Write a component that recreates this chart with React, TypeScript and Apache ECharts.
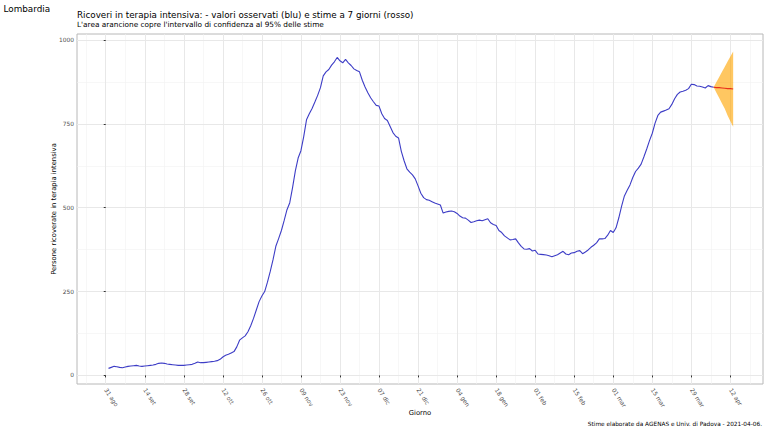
import React, { useEffect, useRef } from "react";
import * as echarts from "echarts";

// Days are counted from 31 Aug 2020 (day 0)
const tickDays = [0, 14, 28, 42, 56, 70, 84, 98, 112, 126, 140, 154, 168, 182, 196, 210, 224];
const tickLabels = ["31 ago", "14 set", "28 set", "12 ott", "26 ott", "09 nov", "23 nov", "07 dic", "21 dic", "04 gen", "18 gen", "01 feb", "15 feb", "01 mar", "15 mar", "29 mar", "12 apr"];
const minorDays = [-7, 7, 21, 35, 49, 63, 77, 91, 105, 119, 133, 147, 161, 175, 189, 203, 217, 231];
const yTicks = [0, 250, 500, 750, 1000];
const yMinor = [125, 375, 625, 875];

// Observed ICU occupancy, 1 Sep 2020 (day 1) .. 6 Apr 2021 (day 218)
const observedStartDay = 1;
const observed = [
  21, 24, 27, 26, 24, 23, 25, 27, 28, 29, 30, 28, 27, 28, 29, 30, 31, 33, 36, 37,
  36, 34, 33, 32, 31, 30, 30, 30, 31, 32, 33, 36, 40, 38, 38, 39, 40, 41, 42, 44,
  48, 55, 60, 63, 67, 71, 85, 105, 112, 118, 130, 148, 170, 195, 220, 237, 250, 278, 310, 345,
  385, 408, 432, 462, 494, 515, 560, 610, 648, 670, 712, 762, 780, 796, 815, 835, 858, 893, 905, 912,
  925, 935, 948, 938, 932, 942, 932, 924, 914, 909, 905, 880, 860, 843, 828, 816, 805, 803, 780, 766,
  760, 742, 724, 713, 708, 668, 640, 616, 606, 598, 586, 565, 543, 530, 524, 522, 518, 514, 511, 508,
  484, 487, 489, 490, 488, 483, 475, 470, 469, 463, 456, 458, 461, 463, 461, 464, 467, 455, 450, 447,
  432, 426, 416, 410, 404, 405, 407, 395, 385, 377, 376, 378, 371, 373, 362, 361, 360, 359, 357, 354,
  357, 360, 365, 370, 362, 360, 365, 366, 370, 372, 363, 368, 374, 382, 388, 395, 407, 407, 408, 418,
  432, 426, 440, 470, 505, 535, 552, 568, 590, 608, 618, 630, 652, 675, 700, 722, 752, 775, 785, 788,
  791, 795, 808, 825, 838, 845, 847, 850, 855, 868, 867, 863, 862, 860, 857, 864, 861, 859,
];

// 7-day forecast, 6 Apr (day 218) .. 13 Apr (day 225)
const forecastDays = [218, 219, 220, 221, 222, 223, 224, 225];
const forecastMean = [859, 858, 858, 857, 856, 855, 855, 854];
const forecastLower = [859, 843, 827, 811, 795, 775, 758, 741];
const forecastUpper = [859, 875, 890, 905, 920, 936, 951, 966];

const tagText = "Lombardia";
const titleText = "Ricoveri in terapia intensiva: - valori osservati (blu) e stime a 7 giorni (rosso)";
const subtitleText = "L'area arancione copre l'intervallo di confidenza al 95% delle stime";
const captionText = "Stime elaborate da AGENAS e Univ. di Padova - 2021-04-06.";

const FONT = "DejaVu Sans";

function txt(text: string, x: number, y: number, size: number, align: string = "left") {
  return {
    type: "text", x, y, silent: true,
    style: {
      text, fontSize: size, fontFamily: FONT, fill: "#000",
      align, verticalAlign: "middle", textAlign: align, textVerticalAlign: "middle",
    },
  };
}

export default function App() {
  const ref = useRef<HTMLDivElement>(null);
  useEffect(() => {
    if (!ref.current) return;
    const chart = echarts.init(ref.current, undefined, { renderer: "svg" });
    const obsData = observed.map((v, i) => [observedStartDay + i, v]);
    const bandData = forecastDays.map((d, i) => [d, forecastLower[i], forecastUpper[i]]);
    const meanData = forecastDays.map((d, i) => [d, forecastMean[i]]);
    const gridLines: any[] = [];
    minorDays.forEach((d) => gridLines.push({ xAxis: d, lineStyle: { color: "#f2f2f2", width: 0.6, type: "solid" } }));
    yMinor.forEach((v) => gridLines.push({ yAxis: v, lineStyle: { color: "#f2f2f2", width: 0.6, type: "solid" } }));
    tickDays.forEach((d) => gridLines.push({ xAxis: d, lineStyle: { color: "#e8e8e8", width: 1, type: "solid" } }));
    yTicks.forEach((v) => gridLines.push({ yAxis: v, lineStyle: { color: "#e8e8e8", width: 1, type: "solid" } }));

    chart.setOption({
      animation: false,
      backgroundColor: "#ffffff",
      textStyle: { fontFamily: FONT },
      graphic: [
        txt(tagText, 3.5, 8.6, 8.8),
        txt(titleText, 77, 15.2, 8.75),
        txt(subtitleText, 77, 24.7, 7.35),
        txt(captionText, 762, 424, 5.8, "right"),
      ],
      grid: { left: 77, top: 34, width: 686, height: 350, show: true, borderColor: "#b8b8b8", borderWidth: 1, backgroundColor: "transparent" },
      xAxis: {
        type: "value", min: -10.3, max: 235.7,
        name: "Giorno", nameLocation: "middle", nameGap: 25, nameMoveOverlap: false,
        nameTextStyle: { fontFamily: FONT, fontSize: 6.8, color: "#000" },
        axisLine: { show: false },
        splitLine: { show: false },
        axisTick: { show: true, customValues: tickDays, length: 2, lineStyle: { color: "#333" } },
        axisLabel: {
          customValues: tickDays,
          formatter: (v: number) => { const i = tickDays.indexOf(Math.round(v)); return i >= 0 ? tickLabels[i] : ""; },
          rotate: -57, fontSize: 5.9, color: "#4d4d4d", margin: 5, fontFamily: FONT,
        },
      },
      yAxis: {
        type: "value", min: -25.6, max: 1017.9,
        name: "Persone ricoverate in terapia intensiva", nameLocation: "middle", nameGap: 20, nameMoveOverlap: false,
        nameTextStyle: { fontFamily: FONT, fontSize: 6.8, color: "#000" },
        axisLine: { show: false },
        splitLine: { show: false },
        axisTick: { show: true, customValues: yTicks, length: 2, lineStyle: { color: "#333" } },
        axisLabel: { customValues: yTicks, formatter: (v: number) => String(Math.round(v)), fontSize: 5.9, color: "#4d4d4d", margin: 3, fontFamily: FONT },
      },
      series: [
        {
          type: "line", data: [], silent: true, z: 0,
          markLine: { z: 0, silent: true, symbol: ["none", "none"], label: { show: false }, animation: false, data: gridLines },
        },
        {
          type: "custom", data: bandData, silent: true, z: 3,
          encode: { x: 0, y: [1, 2] },
          renderItem: (params: any, api: any) => {
            if (params.dataIndex !== 0) return null;
            const upper = forecastDays.map((d, i) => api.coord([d, forecastUpper[i]]));
            const lower = forecastDays.map((d, i) => api.coord([d, forecastLower[i]])).reverse();
            return {
              type: "polygon",
              shape: { points: upper.concat(lower) },
              style: { fill: "rgba(255,165,0,0.62)", stroke: "none" },
            };
          },
        },
        {
          type: "line", data: obsData, symbol: "none", z: 5,
          lineStyle: { color: "#3d3dc6", width: 1.1 },
        },
        {
          type: "line", data: meanData, symbol: "none", z: 6,
          lineStyle: { color: "#e8301c", width: 1.1 },
        },
      ],
    });
    return () => chart.dispose();
  }, []);
  return <div ref={ref} style={{ width: 767, height: 431, position: "absolute", left: 0, top: 0 }} />;
}
